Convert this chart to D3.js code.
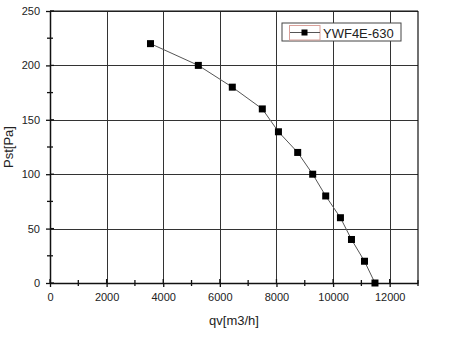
<!DOCTYPE html>
<html><head><meta charset="utf-8">
<script src="https://cdn.jsdelivr.net/npm/d3@7"></script>
<style>body{margin:0;background:#fff}svg{display:block;font-family:"Liberation Sans",Arial,sans-serif}</style>
</head><body><svg id="c" width="450" height="341"></svg>
<script>
const flow = [3550, 5240, 6440, 7500, 8070, 8750, 9280, 9740, 10260, 10650, 11110, 11480];
const pressure = [220, 200, 180, 160, 139, 120, 100, 80, 60, 40, 20, 0];
const xTicks = [0, 2000, 4000, 6000, 8000, 10000, 12000];
const yTicks = [0, 50, 100, 150, 200, 250];
const seriesName = "YWF4E-630";
const xLabel = "qv[m3/h]";
const yLabel = "Pst[Pa]";

const svg = d3.select("#c");
const L = 50, R = 418, T = 11, B = 283;
const x = d3.scaleLinear().domain([0, 13000]).range([L, R]);
const y = d3.scaleLinear().domain([0, 250]).range([B, T]);

// grid via axes with long inner ticks
const gx = svg.append("g").attr("transform", `translate(0,${B})`)
  .call(d3.axisBottom(x).tickValues(xTicks.filter(d => d > 0)).tickSize(-(B - T)).tickFormat(""));
const gy = svg.append("g").attr("transform", `translate(${L},0)`)
  .call(d3.axisLeft(y).tickValues(yTicks.filter(d => d > 0)).tickSize(-(R - L)).tickFormat(""));
[gx, gy].forEach(a => {
  a.select(".domain").remove();
  a.selectAll(".tick line").attr("stroke", "#333").attr("stroke-width", 1).attr("shape-rendering", "crispEdges");
});
// grid also as plain lines (rounded)
const grid = svg.append("g");
xTicks.filter(d => d > 0).forEach(d => {
  const px = Math.round(x(d)) + 0.5;
  grid.append("line").attr("x1", px).attr("x2", px).attr("y1", T).attr("y2", B)
    .attr("stroke", "#333").attr("stroke-width", 1).attr("shape-rendering", "crispEdges");
});
yTicks.filter(d => d > 0).forEach(d => {
  const py = Math.round(y(d)) + 0.5;
  grid.append("line").attr("x1", L).attr("x2", R).attr("y1", py).attr("y2", py)
    .attr("stroke", "#333").attr("stroke-width", 1).attr("shape-rendering", "crispEdges");
});

// axes
const xAxis = d3.axisBottom(x).tickValues(xTicks).tickFormat(d3.format("d")).tickSizeInner(4).tickSizeOuter(0).tickPadding(6);
const xa = svg.append("g").attr("transform", `translate(0,${B})`).call(xAxis);
const yAxis = d3.axisLeft(y).tickValues(yTicks).tickFormat(d3.format("d")).tickSizeInner(4).tickSizeOuter(0).tickPadding(6);
const ya = svg.append("g").attr("transform", `translate(${L},0)`).call(yAxis);
[xa, ya].forEach(a => {
  a.select(".domain").attr("stroke", "#111").attr("stroke-width", 1.5);
  a.selectAll(".tick line").attr("stroke", "#111").attr("stroke-width", 1.3);
  a.selectAll("text").attr("font-size", 11).attr("fill", "#222").attr("font-family", "Liberation Sans, Arial, sans-serif");
});

// frame top/right
svg.append("line").attr("x1", L).attr("x2", R).attr("y1", T).attr("y2", T).attr("stroke", "#111").attr("stroke-width", 1.2);
svg.append("line").attr("x1", R).attr("x2", R).attr("y1", T).attr("y2", B).attr("stroke", "#111").attr("stroke-width", 1.2);

// inward major ticks and minor ticks
const tk = svg.append("g");
xTicks.forEach(d => {
  tk.append("line").attr("x1", x(d)).attr("x2", x(d)).attr("y1", B - 4).attr("y2", B)
    .attr("stroke", "#111").attr("stroke-width", 1.3);
});
yTicks.forEach(d => {
  tk.append("line").attr("x1", L).attr("x2", L + 4).attr("y1", y(d)).attr("y2", y(d))
    .attr("stroke", "#111").attr("stroke-width", 1.3);
});
d3.range(1000, 13001, 2000).forEach(d => {
  tk.append("line").attr("x1", x(d)).attr("x2", x(d)).attr("y1", B - 3).attr("y2", B + 3)
    .attr("stroke", "#111").attr("stroke-width", 1.3);
});
d3.range(25, 250, 50).forEach(d => {
  tk.append("line").attr("x1", L - 3).attr("x2", L + 3).attr("y1", y(d)).attr("y2", y(d))
    .attr("stroke", "#111").attr("stroke-width", 1.3);
});

// series
const data = flow.map((f, i) => ({ f, p: pressure[i] }));
svg.append("path").datum(data)
  .attr("d", d3.line().x(d => x(d.f)).y(d => y(d.p)))
  .attr("fill", "none").attr("stroke", "#555").attr("stroke-width", 1);
const mk = svg.append("g");
data.forEach(d => {
  mk.append("rect").attr("x", x(d.f) - 3.5).attr("y", y(d.p) - 3.5)
    .attr("width", 7).attr("height", 7).attr("fill", "#000");
});

// legend
const lg = svg.append("g");
lg.append("rect").attr("x", 282).attr("y", 23).attr("width", 119).attr("height", 18)
  .attr("fill", "#fff").attr("stroke", "#444").attr("stroke-width", 1);
lg.append("rect").attr("x", 289.5).attr("y", 25.5).attr("width", 30.5).attr("height", 14.5)
  .attr("fill", "none").attr("stroke", "#d9a09a").attr("stroke-width", 1);
lg.append("line").attr("x1", 290).attr("x2", 320).attr("y1", 32.5).attr("y2", 32.5)
  .attr("stroke", "#555").attr("stroke-width", 1);
lg.append("rect").attr("x", 301.5).attr("y", 29.5).attr("width", 6).attr("height", 6).attr("fill", "#000");
lg.append("text").attr("x", 323).attr("y", 37.5).attr("font-size", 13).attr("fill", "#222").text(seriesName);

// axis titles
svg.append("text").attr("x", 234).attr("y", 325).attr("text-anchor", "middle")
  .attr("font-size", 13).attr("fill", "#222").text(xLabel);
svg.append("text").attr("transform", "translate(13,147) rotate(-90)").attr("text-anchor", "middle")
  .attr("font-size", 13).attr("fill", "#222").text(yLabel);
</script></body></html>
